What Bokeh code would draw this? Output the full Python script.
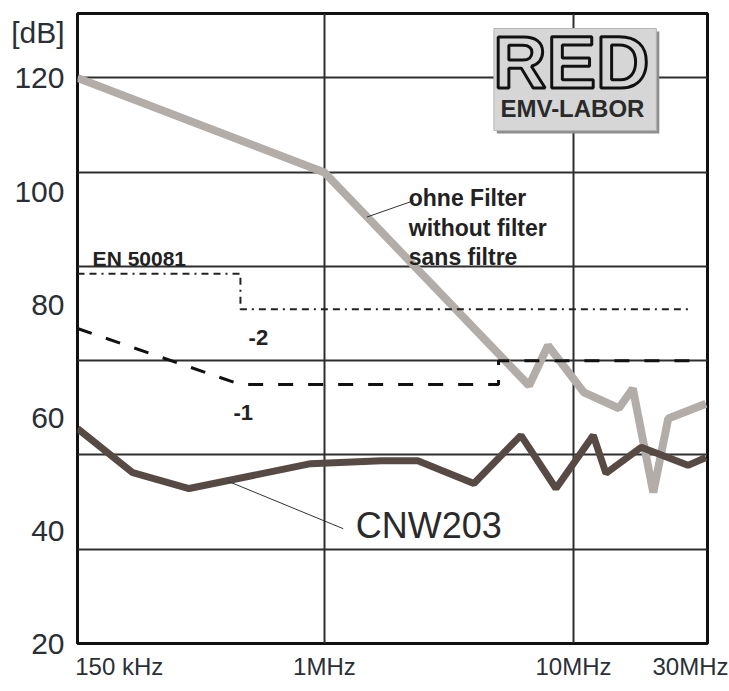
from bokeh.plotting import figure
from bokeh.models import FixedTicker, Range1d
from bokeh.core.properties import value
from bokeh.embed import file_html
from bokeh.resources import INLINE

# ---- data (frequency in MHz, level in dB) ----
F_NO_FILTER = [0.102, 1.0, 6.63, 7.9, 11.0, 15.2, 17.3, 20.9, 24.0, 34.0]
DB_NO_FILTER = [120.0, 103.3, 65.6, 72.7, 64.4, 61.6, 65.1, 46.7, 59.8, 62.4]

F_CNW203 = [0.102, 0.170, 0.286, 0.88, 1.69, 2.37, 3.98, 6.15, 8.5, 12.0, 13.5, 18.7, 28.8, 34.0]
DB_CNW203 = [58.0, 50.2, 47.4, 51.8, 52.3, 52.3, 48.3, 56.8, 47.4, 56.8, 50.1, 54.7, 51.5, 52.9]

F_LIMIT_1 = [0.102, 0.46, 5.0, 5.0, 30.0]
DB_LIMIT_1 = [75.7, 65.8, 65.8, 70.0, 70.0]

F_LIMIT_2 = [0.102, 0.46, 0.46, 30.0]
DB_LIMIT_2 = [85.4, 85.4, 79.1, 79.1]

X_TICKS = [0.15, 1, 10, 30]
X_TICK_LABELS = ["150 kHz", "1MHz", "10MHz", "30MHz"]
Y_TICKS = [20, 40, 60, 80, 100, 120]
Y_UNIT_TICK = 128.0
Y_UNIT_LABEL = "[dB]"
X_GRID = [1, 10]
Y_GRID = [20 + k * 100 / 6 for k in range(1, 7)]

FONT = value("Liberation Sans")

p = figure(width=728, height=690, x_axis_type="log",
           x_range=Range1d(0.102, 34.5), y_range=Range1d(20, 131.4),
           output_backend="svg", toolbar_location=None,
           min_border_left=77, min_border_right=21, min_border_top=13, min_border_bottom=47)

p.background_fill_color = "white"
p.border_fill_color = "white"
p.outline_line_color = "#111111"
p.outline_line_width = 3

# grid
p.xgrid.ticker = FixedTicker(ticks=X_GRID)
p.ygrid.ticker = FixedTicker(ticks=Y_GRID)
for g in (p.xgrid, p.ygrid):
    g.grid_line_color = "#2e2e2e"
    g.grid_line_width = 2

# axes
p.xaxis.ticker = FixedTicker(ticks=X_TICKS)
p.xaxis.major_label_overrides = dict(zip(X_TICKS, X_TICK_LABELS))
p.yaxis.ticker = FixedTicker(ticks=Y_TICKS + [Y_UNIT_TICK])
p.yaxis.major_label_overrides = {Y_UNIT_TICK: Y_UNIT_LABEL}
for ax in (p.xaxis, p.yaxis):
    ax.axis_line_color = None
    ax.major_tick_line_color = None
    ax.minor_tick_line_color = None
    ax.major_tick_out = 0
    ax.major_tick_in = 0
    ax.major_label_text_font = "Liberation Sans"
    ax.major_label_text_color = "#2a2f36"
p.xaxis.major_label_text_font_size = "24px"
p.xaxis.major_label_standoff = 9
p.yaxis.major_label_text_font_size = "30px"
p.yaxis.major_label_standoff = 13

# logo box
p.quad(left=[4.92], right=[22.1], bottom=[110.2], top=[128.2], fill_color="#8e8e8e", line_color=None)
p.quad(left=[4.79], right=[21.5], bottom=[110.7], top=[128.75], fill_color="#d6d6d6",
       line_color="#b5b5b5", line_width=1)
p.text(x=[9.8], y=[122.7], text=["RED"], text_font=FONT, text_font_style="bold",
       text_font_size="74px", text_align="center", text_baseline="middle",
       text_color="#d6d6d6", text_outline_color="#111111")
p.text(x=[9.9], y=[114.6], text=["EMV-LABOR"], text_font=FONT, text_font_style="bold",
       text_font_size="24px", text_align="center", text_baseline="middle", text_color="#2a2a2a")

# curves
p.line(F_NO_FILTER, DB_NO_FILTER, line_color="#b3adaa", line_width=8)
p.line(F_LIMIT_2, DB_LIMIT_2, line_color="#222222", line_width=2, line_dash="7 5 7 5 2 5")
p.line(F_LIMIT_1, DB_LIMIT_1, line_color="#111111", line_width=3, line_dash="15 15")
p.line(F_CNW203, DB_CNW203, line_color="#574a45", line_width=7)

# leader lines
p.line([2.28, 1.48], [98.3, 95.4], line_color="#333333", line_width=1)
p.line([0.412, 1.19], [48.65, 40.3], line_color="#333333", line_width=1)

# texts
p.text(x=[0.1173], y=[88.1], text=["EN 50081"], text_font=FONT, text_font_style="bold",
       text_font_size="21px", text_baseline="alphabetic", text_color="#222222")
p.text(x=[0.496, 0.431], y=[74.1, 60.85], text=["-2", "-1"], text_font=FONT, text_font_style="bold",
       text_font_size="22px", text_baseline="alphabetic", text_color="#222222")
p.text(x=[2.18, 2.18, 2.18], y=[98.7, 93.4, 88.3],
       text=["ohne Filter", "without filter", "sans filtre"], text_font=FONT,
       text_font_style="bold", text_font_size="23px", text_baseline="alphabetic", text_color="#222222")
p.text(x=[1.336], y=[40.9], text=["CNW203"], text_font=FONT, text_font_size="36px",
       text_baseline="alphabetic", text_color="#2a2a2a")

open("out.html", "w").write(file_html(p, INLINE))
